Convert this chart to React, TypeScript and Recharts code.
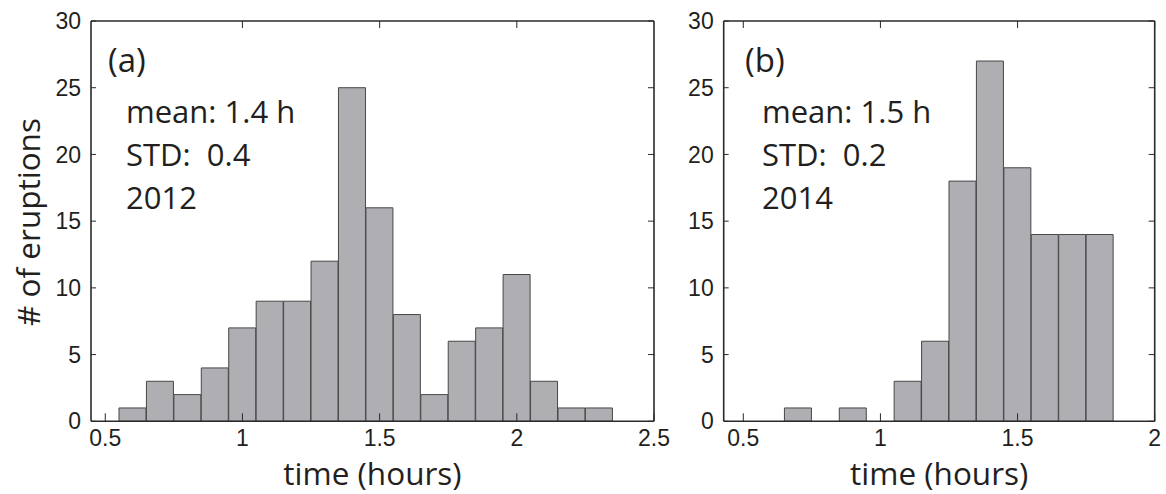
import React from 'react';
import { BarChart, Bar, XAxis, YAxis, Customized } from 'recharts';

// ---- data ----
const binCentersA = [0.6, 0.7, 0.8, 0.9, 1.0, 1.1, 1.2, 1.3, 1.4, 1.5, 1.6, 1.7, 1.8, 1.9, 2.0, 2.1, 2.2, 2.3];
const countsA = [1, 3, 2, 4, 7, 9, 9, 12, 25, 16, 8, 2, 6, 7, 11, 3, 1, 1];
const binCentersB = [0.7, 0.8, 0.9, 1.0, 1.1, 1.2, 1.3, 1.4, 1.5, 1.6, 1.7, 1.8];
const countsB = [1, 0, 1, 0, 3, 6, 18, 27, 19, 14, 14, 14];
const xTicksA = [0.5, 1, 1.5, 2, 2.5];
const topTicksA = [1, 1.5, 2];
const xTicksB = [0.5, 1, 1.5, 2];
const topTicksB = [0.5, 1, 1.5, 2];
const yTicks = [0, 5, 10, 15, 20, 25, 30];
const tagA = '(a)';
const tagB = '(b)';
const statsA = ['mean: 1.4 h', 'STD:  0.4', '2012'];
const statsB = ['mean: 1.5 h', 'STD:  0.2', '2014'];
const xTitle = 'time (hours)';
const yTitle = '# of eruptions';

// ---- style ----
const AX = '#2a2a2a';
const TXT = '#231f20';
const BAR_FILL = '#aeaeb3';
const BAR_STROKE = '#474747';
const TICK_FONT = "'Liberation Sans', Arial, sans-serif";
const TITLE_FONT = "'Open Sans', 'Noto Sans', sans-serif";

const noTick = () => <g />;

type PanelProps = {
  left: number;
  width: number;
  margin: { top: number; right: number; bottom: number; left: number };
  centers: number[];
  counts: number[];
  xDomain: [number, number];
  xTicks: number[];
  topTicks: number[];
  tag: string;
  stats: string[];
  tagX: number;
  statX: number;
  showYTitle: boolean;
};

function Panel(p: PanelProps) {
  const data = p.centers.map((c, i) => ({ x: c, n: p.counts[i] }));
  // plot area = margin + 1px axis on every side
  const plotCx = p.margin.left + 1 + (p.width - p.margin.left - p.margin.right - 2) / 2;
  return (
    <div style={{ position: 'absolute', left: p.left, top: 0 }}>
      <BarChart width={p.width} height={494} data={data} margin={p.margin} barCategoryGap={0} barGap={0}>
        <XAxis
          xAxisId="b"
          dataKey="x"
          type="number"
          domain={p.xDomain}
          allowDataOverflow
          ticks={p.xTicks}
          interval={0}
          height={1}
          tickSize={-8}
          tickMargin={16}
          axisLine={{ stroke: AX, strokeWidth: 1.6 }}
          tickLine={{ stroke: AX, strokeWidth: 1 }}
          tick={{ fill: TXT, fontSize: 23, fontFamily: TICK_FONT }}
        />
        <XAxis
          xAxisId="t"
          orientation="top"
          dataKey="x"
          type="number"
          domain={p.xDomain}
          allowDataOverflow
          ticks={p.topTicks}
          interval={0}
          height={1}
          tickSize={-7}
          axisLine={{ stroke: AX, strokeWidth: 1.6 }}
          tickLine={{ stroke: AX, strokeWidth: 1 }}
          tick={noTick}
        />
        <YAxis
          yAxisId="l"
          type="number"
          domain={[0, 30]}
          allowDataOverflow
          ticks={yTicks}
          interval={0}
          width={1}
          tickSize={-5}
          tickMargin={15}
          axisLine={{ stroke: AX, strokeWidth: 1.6 }}
          tickLine={{ stroke: AX, strokeWidth: 1 }}
          tick={{ fill: TXT, fontSize: 23, fontFamily: TICK_FONT }}
        />
        <YAxis
          yAxisId="r"
          orientation="right"
          type="number"
          domain={[0, 30]}
          allowDataOverflow
          ticks={yTicks}
          interval={0}
          width={1}
          tickSize={-6}
          axisLine={{ stroke: AX, strokeWidth: 1.6 }}
          tickLine={{ stroke: AX, strokeWidth: 1 }}
          tick={noTick}
        />
        <Bar
          xAxisId="b"
          yAxisId="l"
          dataKey="n"
          fill={BAR_FILL}
          stroke={BAR_STROKE}
          strokeWidth={1}
          isAnimationActive={false}
        />
        <Customized
          component={() => (
            <g fill={TXT} fontFamily={TITLE_FONT}>
              <text x={p.tagX} y={72} fontSize={33}>{p.tag}</text>
              {p.stats.map((s, i) => (
                <text key={i} x={p.statX} y={123 + i * 43} fontSize={31} style={{ whiteSpace: 'pre' }}>
                  {s}
                </text>
              ))}
              <text x={plotCx} y={485} fontSize={31.5} textAnchor="middle">{xTitle}</text>
              {p.showYTitle ? (
                <text transform="translate(40,222) rotate(-90)" x={0} y={0} fontSize={31.5} textAnchor="middle">
                  {yTitle}
                </text>
              ) : null}
            </g>
          )}
        />
      </BarChart>
    </div>
  );
}

export default function App() {
  return (
    <div style={{ position: 'absolute', left: 0, top: 0, width: 1166, height: 494, background: '#fff' }}>
      <Panel
        left={0}
        width={700}
        margin={{ top: 20, left: 90, right: 45, bottom: 71.7 }}
        centers={binCentersA}
        counts={countsA}
        xDomain={[0.448, 2.5]}
        xTicks={xTicksA}
        topTicks={topTicksA}
        tag={tagA}
        stats={statsA}
        tagX={108}
        statX={126}
        showYTitle={true}
      />
      <Panel
        left={670}
        width={496}
        margin={{ top: 20, left: 52.7, right: 10.3, bottom: 71.7 }}
        centers={binCentersB}
        counts={countsB}
        xDomain={[0.4286, 2.0]}
        xTicks={xTicksB}
        topTicks={topTicksB}
        tag={tagB}
        stats={statsB}
        tagX={75}
        statX={92}
        showYTitle={false}
      />
    </div>
  );
}
